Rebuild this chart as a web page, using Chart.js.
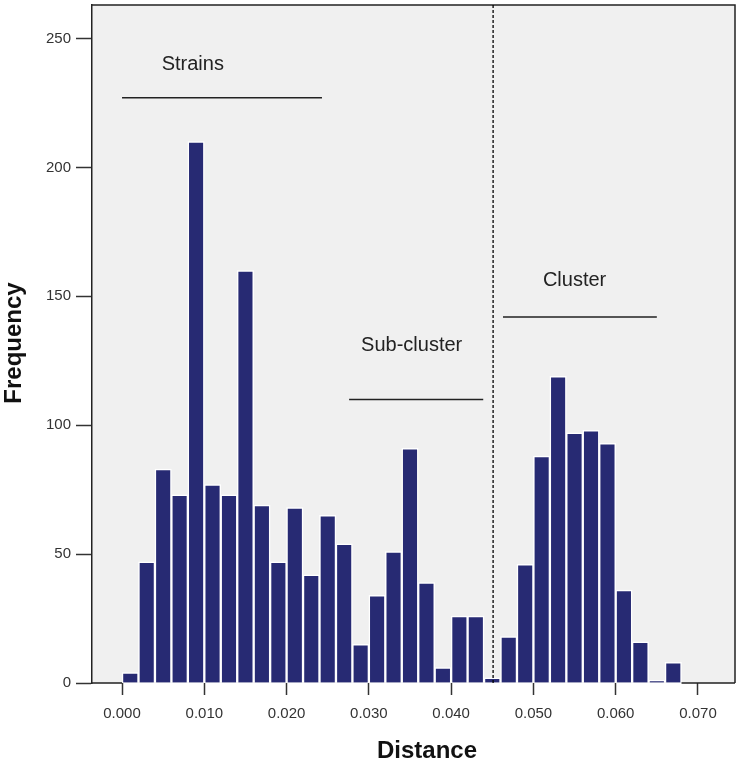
<!DOCTYPE html>
<html>
<head>
<meta charset="utf-8">
<script src="https://cdn.jsdelivr.net/npm/chart.js@4.4.1/dist/chart.umd.min.js"></script>
<style>
  html, body { margin: 0; padding: 0; background: #ffffff; }
  #wrap { width: 738px; height: 766px; }
</style>
</head>
<body>
<div id="wrap"><canvas id="histChart" width="738" height="766"></canvas></div>
<script>
// bin centres (bin width 0.002)
const distanceBins = [0.001, 0.003, 0.005, 0.007, 0.009, 0.011, 0.013, 0.015, 0.017, 0.019,
                      0.021, 0.023, 0.025, 0.027, 0.029, 0.031, 0.033, 0.035, 0.037, 0.039,
                      0.041, 0.043, 0.045, 0.047, 0.049, 0.051, 0.053, 0.055, 0.057, 0.059,
                      0.061, 0.063, 0.065, 0.067];
const frequency = [4, 47, 83, 73, 210, 77, 73, 160, 69, 47,
                   68, 42, 65, 54, 15, 34, 51, 91, 39, 6,
                   26, 26, 2, 18, 46, 88, 119, 97, 98, 93,
                   36, 16, 1, 8];
const xTickValues = [0.000, 0.010, 0.020, 0.030, 0.040, 0.050, 0.060, 0.070];
const yTickValues = [0, 50, 100, 150, 200, 250];

// group labels: text, text position, bracket line (x from, x to, y)
const groupNames = ['Strains', 'Sub-cluster', 'Cluster'];
const groupTextX = [0.0086, 0.0352, 0.0550];
const groupTextY = [240, 131, 156];
const groupLineFrom = [0.0000, 0.0276, 0.0463];
const groupLineTo = [0.0243, 0.0439, 0.0650];
const groupLineY = [227, 110, 142];
const cutoffDistance = 0.0451;

const navy = '#272a73';
const fontFam = '"Liberation Sans", Arial, sans-serif';

const histogramExtras = {
  id: 'histogramExtras',
  beforeDraw(chart) {
    const { ctx, chartArea } = chart;
    ctx.save();
    ctx.fillStyle = '#f0f0f0';
    ctx.fillRect(chartArea.left, chartArea.top, chartArea.right - chartArea.left, chartArea.bottom - chartArea.top);
    ctx.restore();
  },
  afterDatasetsDraw(chart) {
    const { ctx, chartArea, scales } = chart;
    const x = scales.x, y = scales.y;
    ctx.save();
    // frame: top and right, bottom pieces outside the bars
    ctx.strokeStyle = '#222222';
    ctx.lineWidth = 1.5;
    ctx.beginPath();
    ctx.moveTo(chartArea.left, chartArea.top);
    ctx.lineTo(chartArea.right, chartArea.top);
    ctx.lineTo(chartArea.right, chartArea.bottom);
    ctx.moveTo(chartArea.left, chartArea.bottom);
    ctx.lineTo(x.getPixelForValue(0), chartArea.bottom);
    ctx.moveTo(x.getPixelForValue(0.068), chartArea.bottom);
    ctx.lineTo(chartArea.right, chartArea.bottom);
    ctx.stroke();

    // dashed cut-off line
    ctx.setLineDash([3, 2]);
    ctx.strokeStyle = '#000000';
    ctx.lineWidth = 1.3;
    ctx.beginPath();
    ctx.moveTo(x.getPixelForValue(cutoffDistance), chartArea.top);
    ctx.lineTo(x.getPixelForValue(cutoffDistance), chartArea.bottom);
    ctx.stroke();
    ctx.setLineDash([]);

    // group brackets and labels
    ctx.strokeStyle = '#222222';
    ctx.lineWidth = 1.5;
    ctx.fillStyle = '#222222';
    ctx.font = '20px ' + fontFam;
    ctx.textAlign = 'center';
    ctx.textBaseline = 'middle';
    groupNames.forEach((name, i) => {
      ctx.beginPath();
      ctx.moveTo(x.getPixelForValue(groupLineFrom[i]), y.getPixelForValue(groupLineY[i]));
      ctx.lineTo(x.getPixelForValue(groupLineTo[i]), y.getPixelForValue(groupLineY[i]));
      ctx.stroke();
      ctx.fillText(name, x.getPixelForValue(groupTextX[i]), y.getPixelForValue(groupTextY[i]));
    });

    // axis titles
    ctx.fillStyle = '#111111';
    ctx.font = 'bold 24px ' + fontFam;
    ctx.fillText('Distance', 427, 751);
    ctx.translate(14, 343);
    ctx.rotate(-Math.PI / 2);
    ctx.fillText('Frequency', 0, 0);
    ctx.restore();
  }
};

const ctx = document.getElementById('histChart').getContext('2d');
new Chart(ctx, {
  type: 'bar',
  data: {
    datasets: [{
      label: 'Frequency',
      data: distanceBins.map((d, i) => ({ x: d, y: frequency[i] })),
      backgroundColor: navy,
      borderColor: '#ffffff',
      borderWidth: 1.5,
      borderSkipped: 'bottom',
      barPercentage: 1,
      categoryPercentage: 1
    }]
  },
  options: {
    responsive: false,
    animation: false,
    devicePixelRatio: 1,
    layout: { padding: { left: 0, top: 5, right: 3, bottom: 0 } },
    plugins: {
      legend: { display: false },
      tooltip: { enabled: false }
    },
    scales: {
      x: {
        type: 'linear',
        offset: false,
        min: -0.00365,
        max: 0.0745,
        afterBuildTicks: (scale) => { scale.ticks = xTickValues.map(v => ({ value: v })); },
        afterFit: (scale) => { scale.height = 83; scale.paddingLeft = 0; scale.paddingRight = 0; },
        border: { display: false },
        grid: { offset: false, drawOnChartArea: false, color: '#333333', tickLength: 12, tickWidth: 1.5 },
        ticks: {
          padding: 10,
          color: '#333333',
          font: { family: fontFam, size: 15 },
          callback: (v) => Number(v).toFixed(3)
        }
      },
      y: {
        min: 0,
        max: 263,
        afterBuildTicks: (scale) => { scale.ticks = yTickValues.map(v => ({ value: v })); },
        afterFit: (scale) => { scale.width = 92; scale.paddingTop = 0; scale.paddingBottom = 0; },
        border: { display: true, color: '#222222', width: 1.5 },
        grid: { drawOnChartArea: false, color: '#333333', tickLength: 16, tickWidth: 1.5 },
        ticks: {
          padding: 5,
          color: '#333333',
          font: { family: fontFam, size: 15 }
        }
      }
    }
  },
  plugins: [histogramExtras]
});
</script>
</body>
</html>
